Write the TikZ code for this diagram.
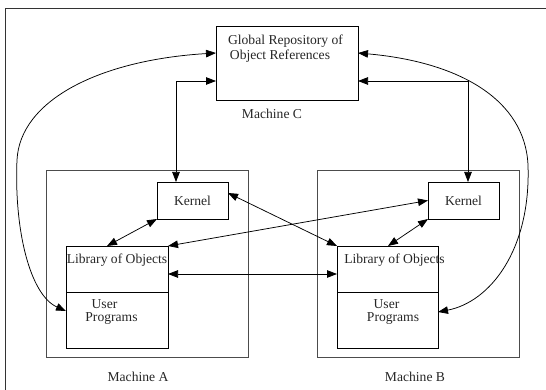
\documentclass[tikz,border=0pt]{standalone}
\usepackage{fontspec}
\setmainfont{Liberation Serif}
\usetikzlibrary{arrows.meta,calc}
\begin{document}
\begin{tikzpicture}[x=1pt,y=-1pt,
  box/.style={draw=black, line width=0.9pt, inner sep=0pt, outer sep=0pt, fill=none},
  mbox/.style={draw=black!70, line width=1pt, inner sep=0pt, outer sep=0pt},
  txt/.style={inner sep=0pt, text=black!85, font=\fontsize{13.6pt}{15pt}\selectfont},
  dbl/.style={line width=0.75pt, {Triangle[length=10pt,width=7.5pt]}-{Triangle[length=10pt,width=7.5pt]}}]
\useasboundingbox (0,0) rectangle (546,390);
\draw[line width=0.9pt, black!80] (546,8) -- (5.5,8) -- (5.5,390);
% boxes
\node[box, minimum width=142pt, minimum height=74pt] (glob) at (287,63) {};
\node[mbox, minimum width=202pt, minimum height=186pt] (mA) at (147,264) {};
\node[mbox, minimum width=202pt, minimum height=186pt] (mB) at (418,264) {};
\node[box, minimum width=71pt, minimum height=37pt, txt] (kA) at (192.5,200.5) {Kernel};
\node[box, minimum width=71pt, minimum height=37pt, txt] (kB) at (463.5,200.5) {Kernel};
\node[box, minimum width=102pt, minimum height=102pt] (libA) at (117,297) {};
\node[box, minimum width=101pt, minimum height=102pt] (libB) at (387.5,297) {};
\draw[line width=0.9pt] ([yshift=5pt]libA.west) -- ([yshift=5pt]libA.east);
\draw[line width=0.9pt] ([yshift=5pt]libB.west) -- ([yshift=5pt]libB.east);
% texts
\node[txt] (g1) at (285.5,41) {Global Repository of};
\node[txt] (g2) at (280,56) {Object References};
\node[txt] (mc) at (272,114) {Machine C};
\node[txt] (ma) at (138,377) {Machine A};
\node[txt] (mb) at (415,377) {Machine B};
\node[txt] (la) at (117,260) {Library of Objects};
\node[txt] (lb) at (394.5,260) {Library of Objects};
\node[txt] (ua) at (104.5,304) {User};
\node[txt] (pa) at (111.5,319) {Programs};
\node[txt] (ub) at (386.5,304) {User};
\node[txt] (pb) at (393,319) {Programs};
% connectors
\draw[dbl] ([yshift=-18pt]glob.west) -| ([xshift=-16.5pt]kA.north);
\draw[dbl] ([yshift=-18pt]glob.east) -| ([xshift=4.5pt]kB.north);
\draw[dbl] (kA.south west) -- ([xshift=41pt]libA.north west);
\draw[dbl] (kB.south west) -- ([xshift=51pt]libB.north west);
\draw[dbl] ([yshift=7.5pt]kA.east) -- (libB.north west);
\draw[dbl] (kB.west) -- (libA.north east);
\draw[dbl] ([yshift=23pt]libA.east) -- ([yshift=23pt]libB.west);
\draw[dbl] ([yshift=10pt]glob.west) .. controls (100,60) and (20,100) .. (17,160)
  .. controls (14,230) and (30,295) .. ([yshift=-14pt]libA.west);
\draw[dbl] ([yshift=10pt]glob.east) .. controls (460,62) and (525,100) .. (528,165)
  .. controls (531,250) and (490,302) .. ([yshift=-15pt]libB.east);
\end{tikzpicture}
\end{document}
